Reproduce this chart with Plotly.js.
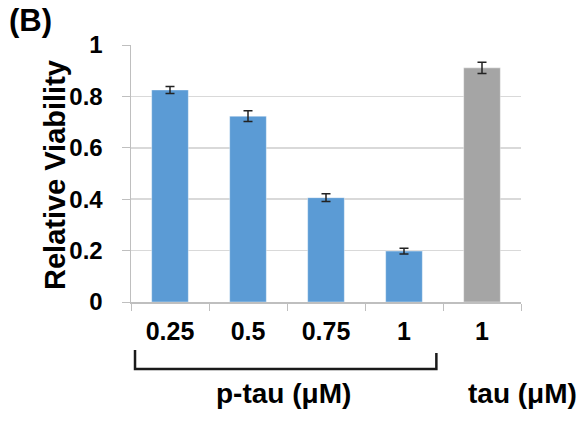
<!DOCTYPE html>
<html><head><meta charset="utf-8">
<script src="https://cdn.plot.ly/plotly-3.0.1.min.js"></script>
<style>body{margin:0;background:#fff}#chart{width:587px;height:423px}</style>
</head><body><div id="chart"></div>
<script>
const categories = ["p-tau 0.25", "p-tau 0.5", "p-tau 0.75", "p-tau 1", "tau 1"];
const tickLabels = ["0.25", "0.5", "0.75", "1", "1"];
const viability = [0.825, 0.723, 0.406, 0.198, 0.911];
const errors = [0.014, 0.021, 0.015, 0.011, 0.022];
const barColors = ["#5B9BD5", "#5B9BD5", "#5B9BD5", "#5B9BD5", "#A5A5A5"];
const yTicks = [0, 0.2, 0.4, 0.6, 0.8, 1];
const yTickText = ["0", "0.2", "0.4", "0.6", "0.8", "1"];
const yTitle = "Relative Viability";

const F = "Liberation Sans, Arial, sans-serif";

const trace = {
  type: "bar",
  x: categories,
  y: viability,
  width: 0.47,
  marker: {color: barColors, line: {color: "rgba(255,255,255,0.4)", width: 1}},
  error_y: {type: "data", array: errors, visible: true, color: "#222", thickness: 1.5, width: 4.5},
  hoverinfo: "none"
};

const layout = {
  width: 587, height: 423,
  margin: {l: 131, r: 66, t: 45, b: 121},
  paper_bgcolor: "#fff", plot_bgcolor: "#fff",
  showlegend: false,
  font: {family: F, color: "#000"},
  xaxis: {
    type: "category",
    tickmode: "array", tickvals: categories, ticktext: tickLabels,
    tickson: "boundaries",
    ticks: "outside", ticklen: 7, tickcolor: "#BFBFBF", tickwidth: 1,
    showline: true, linecolor: "#BFBFBF", linewidth: 1.5,
    showgrid: false, zeroline: false,
    tickfont: {family: F, size: 25, color: "#000", weight: "bold"},
    ticklabelstandoff: 6,
    range: [-0.5, 4.5],
    fixedrange: true
  },
  yaxis: {
    range: [0, 1],
    tickmode: "array", tickvals: yTicks, ticktext: yTickText,
    ticks: "outside", ticklen: 8, tickcolor: "#BFBFBF", tickwidth: 1,
    showline: true, linecolor: "#BFBFBF", linewidth: 1.5,
    showgrid: true, gridcolor: "#D9D9D9", gridwidth: 1.5,
    zeroline: false,
    tickfont: {family: F, size: 24, color: "#000", weight: "bold"},
    ticklabelstandoff: 14,
    fixedrange: true
  },
  shapes: [{
    type: "path", xref: "paper", yref: "paper",
    path: "M 0.0103 -0.187 L 0.0103 -0.261 L 0.783 -0.261 L 0.783 -0.198",
    line: {color: "#1a1a1a", width: 2.5}
  }],
  annotations: [
    {text: yTitle, xref: "paper", yref: "paper", x: (55 - 131) / 390, y: (302 - 175) / 257, xanchor: "center", yanchor: "middle",
     textangle: -90, showarrow: false, font: {family: F, size: 29, color: "#000", weight: "bold"}},
    {text: "(B)", xref: "paper", yref: "paper", x: -0.318, y: 1.097, xanchor: "left", yanchor: "middle",
     showarrow: false, font: {family: F, size: 31, color: "#000", weight: "bold"}},
    {text: "p-tau (μM)", xref: "paper", yref: "paper", x: (283 - 131) / 390, y: (302 - 393) / 257, xanchor: "center", yanchor: "middle",
     showarrow: false, font: {family: F, size: 28, color: "#000", weight: "bold"}},
    {text: "tau (μM)", xref: "paper", yref: "paper", x: (522 - 131) / 390, y: (302 - 393) / 257, xanchor: "center", yanchor: "middle",
     showarrow: false, font: {family: F, size: 28, color: "#000", weight: "bold"}}
  ]
};

Plotly.newPlot("chart", [trace], layout, {staticPlot: true, displayModeBar: false});
</script></body></html>
